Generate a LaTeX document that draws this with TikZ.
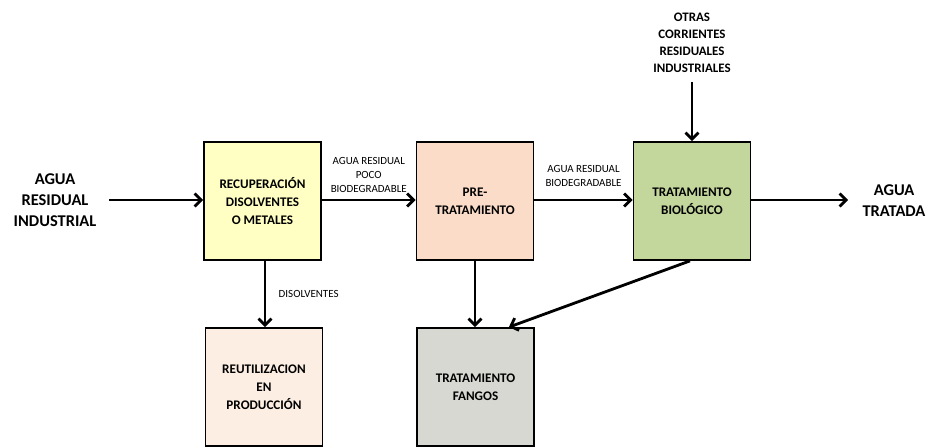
\documentclass[tikz,border=0pt]{standalone}
\usepackage{fontspec}
\setmainfont{Carlito}
\usetikzlibrary{arrows.meta}
\definecolor{cYellow}{HTML}{FFFFC4}
\definecolor{cPeach}{HTML}{FADCC8}
\definecolor{cGreen}{HTML}{C3D69B}
\definecolor{cCream}{HTML}{FDEEE3}
\definecolor{cGrey}{HTML}{D8D8D2}
\tikzset{
  procbox/.style={draw=black, line width=1.8bp, minimum width=117bp, minimum height=118bp,
    inner sep=0pt, align=center, font=\fontsize{13.2}{18}\selectfont\bfseries},
  outlabel/.style={align=center, font=\fontsize{16.5}{21}\selectfont\bfseries},
  flowlabel/.style={align=center, font=\fontsize{11}{14}\selectfont},
  topLabel/.style={align=center, font=\fontsize{13}{17}\selectfont\bfseries},
  flow/.style={line width=2.8bp, -{Straight Barb[length=6.5bp,width=13bp,line width=2.8bp]}}
}
\begin{document}
\begin{tikzpicture}[x=1bp,y=-1bp]
\useasboundingbox (0,0) rectangle (928,447);
% process boxes
\node[procbox, fill=cYellow] (rec) at (262.5,201) {RECUPERACIÓN\\DISOLVENTES\\O METALES};
\node[procbox, fill=cPeach] (pre) at (475,201) {PRE-\\TRATAMIENTO};
\node[procbox, fill=cGreen] (bio) at (692,201) {TRATAMIENTO\\BIOLÓGICO};
\node[procbox, fill=cCream] (reu) at (264,387) {REUTILIZACION\\EN\\PRODUCCIÓN};
\node[procbox, fill=cGrey] (fan) at (475.5,387) {TRATAMIENTO\\FANGOS};
% free texts
\node[outlabel] (ain) at (55,200) {AGUA\\RESIDUAL\\INDUSTRIAL};
\node[outlabel] (aout) at (894,201) {AGUA\\TRATADA};
\node[topLabel] (otras) at (692,43) {OTRAS\\CORRIENTES\\RESIDUALES\\INDUSTRIALES};
\coordinate (inStart) at (109,200);
\coordinate (outEnd) at (848,200);
\coordinate (otrasEnd) at (692,82);
% connectors
\draw[flow] (inStart) -- (rec.west |- inStart);
\draw[flow] (rec.east |- inStart) -- (pre.west |- inStart)
  node[flowlabel, midway, above=3bp] (l1) {AGUA RESIDUAL\\POCO\\BIODEGRADABLE};
\draw[flow] (pre.east |- inStart) -- (bio.west |- inStart)
  node[flowlabel, midway, above=9bp] (l2) {AGUA RESIDUAL\\BIODEGRADABLE};
\draw[flow] (bio.east |- inStart) -- (outEnd);
\draw[flow] (otrasEnd) -- (bio.north);
\draw[flow] (rec.south -| 265,0) -- (reu.north -| 265,0)
  node[flowlabel, pos=0.5, right=9bp] (l3) {DISOLVENTES};
\draw[flow] (pre.south -| 475,0) -- (fan.north -| 475,0);
\draw[flow] (bio.south -| 690,0) -- ([xshift=-26bp]fan.north east);
\end{tikzpicture}
\end{document}
